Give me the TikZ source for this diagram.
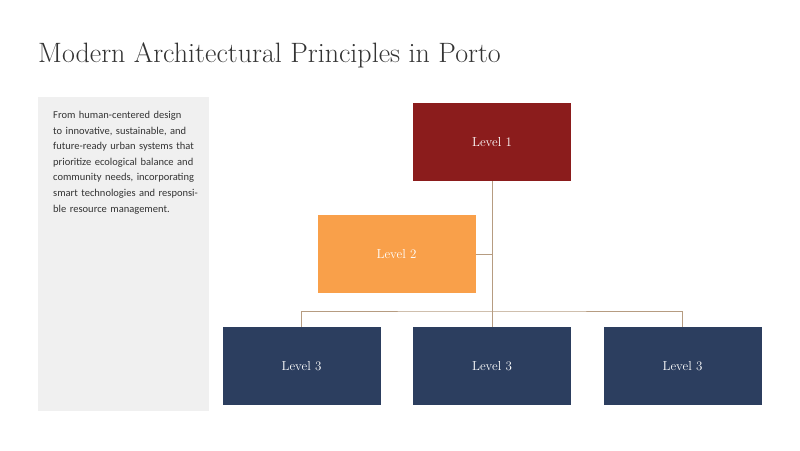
\documentclass[tikz,border=0pt]{standalone}
\usepackage{fontspec}
\setsansfont{Carlito}
\begin{document}
\begin{tikzpicture}[x=1pt,y=-1pt,
  box/.style={draw=none,minimum width=158pt,minimum height=78pt,inner sep=0pt,text=white,font=\fontsize{13}{15}\selectfont},
  conn/.style={draw=brown!70!black!60,line width=0.8pt}]
\useasboundingbox (0,0) rectangle (800,450);
\node[anchor=base west,inner sep=0pt,font=\fontsize{28}{32}\selectfont,text=black!80] (title) at (38,62) {Modern Architectural Principles in Porto};
\fill[black!6] (38,97) rectangle (209,411);
\node[anchor=north west,inner sep=0pt,text width=150pt,align=left,font=\sffamily\fontsize{10.5}{15.6}\selectfont,text=black!80] (txt) at (53,111) {From human-centered design to innovative, sustainable, and future-ready urban systems that prioritize ecological balance and community needs, incorporating smart technologies and responsible resource management.};
\node[box,fill={rgb,255:red,139;green,28;blue,28}] (l1) at (492,142) {Level 1};
\node[box,fill={rgb,255:red,249;green,160;blue,74}] (l2) at (396.5,254) {Level 2};
\node[box,fill={rgb,255:red,44;green,62;blue,95}] (a) at (301.5,366) {Level 3};
\node[box,fill={rgb,255:red,44;green,62;blue,95}] (b) at (492,366) {Level 3};
\node[box,fill={rgb,255:red,44;green,62;blue,95}] (c) at (682.5,366) {Level 3};
\coordinate (j) at (492,311);
\coordinate (k) at (492,254);
\draw[conn] (l1.south) -- (b.north);
\draw[conn] (l2.east) -- (k);
\draw[conn] (a.north) |- (j) -| (c.north);
\end{tikzpicture}
\end{document}
